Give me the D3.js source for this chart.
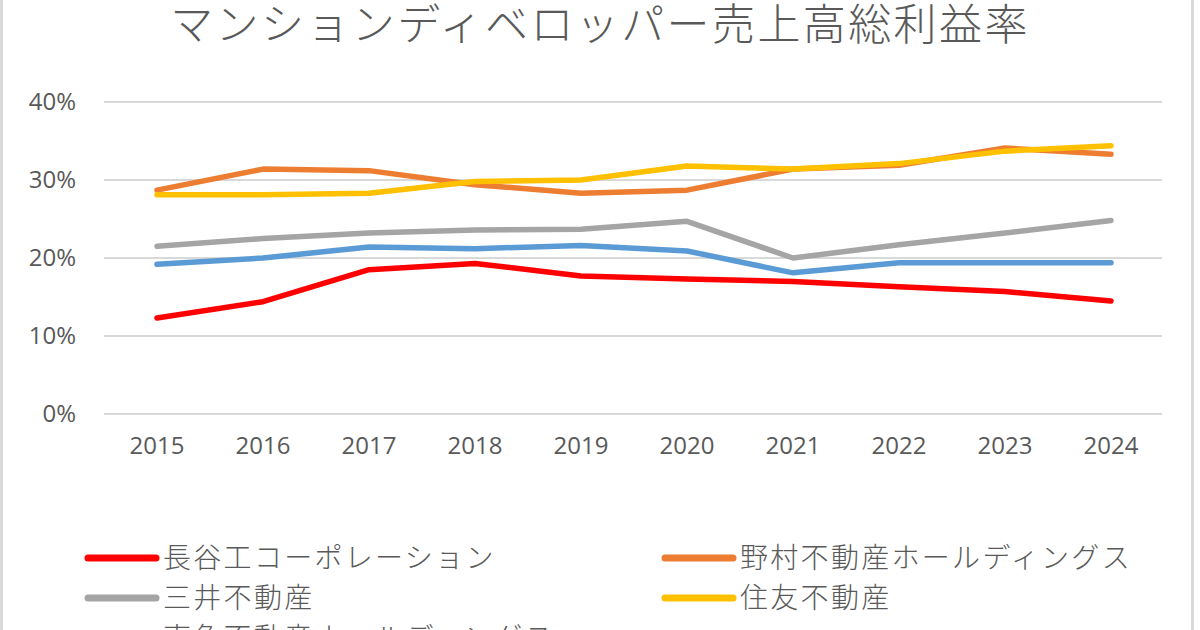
<!DOCTYPE html>
<html><head><meta charset="utf-8">
<script src="https://cdn.jsdelivr.net/npm/d3@7"></script>
<style>html,body{margin:0;padding:0;background:#fff;}svg{display:block;}</style>
</head><body>
<svg id="c" width="1200" height="630"></svg>
<script>
const title = "マンションディベロッパー売上高総利益率";
const years = ["2015","2016","2017","2018","2019","2020","2021","2022","2023","2024"];
const yTicks = [0, 0.1, 0.2, 0.3, 0.4];
const seriesNames = ["長谷工コーポレーション","野村不動産ホールディングス","三井不動産","住友不動産","東急不動産ホールディングス"];
const seriesColors = ["#FF0000","#ED7D31","#A5A5A5","#FFC000","#5B9BD5"];
const haseko   = [0.123,0.144,0.185,0.193,0.177,0.173,0.170,0.163,0.157,0.145];
const nomura   = [0.287,0.314,0.312,0.294,0.283,0.287,0.314,0.319,0.341,0.333];
const mitsui   = [0.215,0.225,0.232,0.236,0.237,0.247,0.200,0.217,0.232,0.248];
const sumitomo = [0.281,0.281,0.283,0.298,0.300,0.318,0.314,0.321,0.337,0.344];
const tokyu    = [0.192,0.200,0.214,0.212,0.216,0.209,0.181,0.194,0.194,0.194];
const seriesValues = [haseko, nomura, mitsui, sumitomo, tokyu];

const svg = d3.select("#c");
const font = "'Open Sans','Noto Sans CJK JP',sans-serif";
const jpFont = "'Noto Sans CJK JP','Noto Sans',sans-serif";
const textCol = "#595959";

svg.append("rect").attr("x",0).attr("y",0).attr("width",1200).attr("height",630).attr("fill","#fff");
// chart border
svg.append("rect").attr("x",1.5).attr("y",-10).attr("width",1191).attr("height",660)
  .attr("fill","none").attr("stroke","#d9d9d9").attr("stroke-width",3);

svg.append("text").attr("x",600).attr("y",40).attr("text-anchor","middle")
  .attr("font-family",jpFont).attr("font-weight",300).attr("font-size",43).attr("letter-spacing",2.4)
  .attr("fill",textCol).text(title);

const x = d3.scaleBand().domain(years).range([104,1164]);
const y = d3.scaleLinear().domain([0,0.4]).range([414,102]);

const grid = svg.append("g");
grid.selectAll("line").data(yTicks).join("line")
  .attr("x1",104).attr("x2",1162)
  .attr("y1",d=>y(d)).attr("y2",d=>y(d))
  .attr("stroke","#d9d9d9").attr("stroke-width",2);

const yAxis = d3.axisLeft(y).tickValues(yTicks).tickFormat(d3.format(".0%")).tickSize(0).tickPadding(0);
const yg = svg.append("g").attr("transform","translate(76,0)").call(yAxis);
yg.select(".domain").remove();
yg.selectAll("text").attr("font-family",font).attr("font-size",24).attr("fill",textCol);

const xAxis = d3.axisBottom(x).tickSize(0).tickPadding(0);
const xg = svg.append("g").attr("transform","translate(0,437)").call(xAxis);
xg.select(".domain").remove();
xg.selectAll("text").attr("font-family",font).attr("font-size",24).attr("fill",textCol).attr("dy","0.71em");

const line = d3.line().x((d,i)=>x(years[i])+x.bandwidth()/2).y(d=>y(d));
const order = [4,2,0,1,3];
svg.append("g").selectAll("path").data(order).join("path")
  .attr("d",k=>line(seriesValues[k]))
  .attr("fill","none").attr("stroke",k=>seriesColors[k])
  .attr("stroke-width",5.5).attr("stroke-linecap","round").attr("stroke-linejoin","round");

// legend
const legX = [88, 665], legY = [558, 598, 638];
const leg = svg.append("g").selectAll("g").data(seriesNames).join("g")
  .attr("transform",(d,i)=>`translate(${legX[i%2]},${legY[Math.floor(i/2)]})`);
leg.append("line").attr("x1",0).attr("x2",68).attr("y1",0).attr("y2",0)
  .attr("stroke",(d,i)=>seriesColors[i]).attr("stroke-width",7).attr("stroke-linecap","round");
leg.append("text").attr("x",75).attr("y",0).attr("dy","0.36em")
  .attr("font-family",jpFont).attr("font-weight",300).attr("font-size",28).attr("letter-spacing",2.3)
  .attr("fill",textCol).text(d=>d);
</script>
</body></html>
